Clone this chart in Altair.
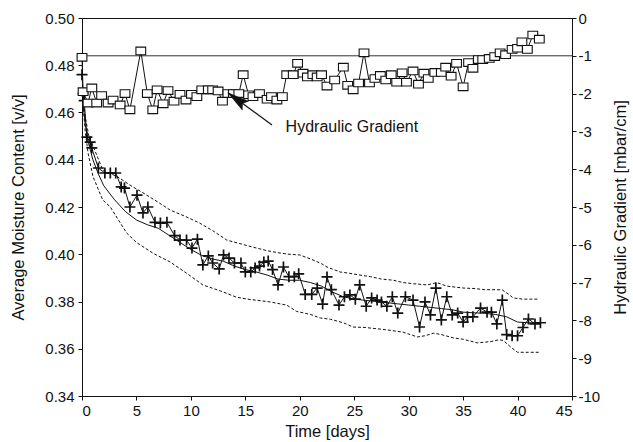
import altair as alt
import pandas as pd

# ---------------- data ----------------
grad_days = [0, 0.1, 0.55, 0.9, 1.35, 1.8, 2.4, 2.85, 3.5, 3.95, 4.4, 5.4, 6.0, 6.5, 6.9,
             7.45, 7.9, 8.45, 9.0, 9.55, 10.05, 10.55, 11.0, 11.6, 12.0, 12.5, 12.9, 13.4,
             13.9, 14.4, 14.8, 15.3, 15.7, 16.3, 17.0, 17.4, 17.9, 18.4, 18.8, 19.4, 19.8,
             20.3, 20.7, 21.2, 21.6, 22.0, 22.5, 23.2, 24.0, 24.4, 24.9, 25.4, 25.9, 26.4,
             26.9, 27.4, 27.9, 28.4, 28.9, 29.4, 29.8, 30.4, 30.9, 31.4, 31.8, 32.4, 33.0,
             33.4, 33.9, 34.4, 35.0, 35.5, 35.9, 36.4, 36.8, 37.4, 37.9, 38.4, 38.9, 39.5,
             40.0, 40.4, 40.9, 41.4, 42.0]
grad_vals = [-1.04, -1.95, -2.25, -1.85, -2.25, -2.05, -2.25, -2.17, -2.3, -2.0, -2.43, -0.87,
             -2.0, -2.43, -1.9, -2.27, -1.92, -2.2, -2.02, -2.17, -2.02, -2.08, -1.9, -1.9,
             -1.9, -1.93, -2.2, -2.0, -2.0, -2.0, -1.5, -2.03, -2.08, -2.0, -2.15, -2.08,
             -2.17, -2.08, -1.5, -1.5, -1.2, -1.46, -1.56, -1.5, -1.56, -1.5, -1.8, -1.64,
             -1.3, -1.78, -1.9, -1.72, -0.92, -1.72, -1.6, -1.52, -1.64, -1.5, -1.7, -1.45,
             -1.7, -1.4, -1.75, -1.46, -1.6, -1.44, -1.44, -1.3, -1.54, -1.2, -1.82, -1.18,
             -1.33, -1.1, -1.1, -1.07, -1.02, -0.92, -0.97, -0.83, -0.8, -0.63, -0.83,
             -0.45, -0.56]

plus_days = [0, 0.1, 0.2, 0.45, 0.75, 0.9, 1.5, 2.1, 2.6, 3.1, 3.6, 3.9, 4.4, 5.05, 5.6,
             6.05, 6.7, 7.2, 7.8, 8.5, 9.0, 9.6, 10.1, 10.6, 11.1, 11.6, 12.0, 12.6, 13.0,
             13.5, 14.0, 14.6, 15.0, 15.5, 15.9, 16.3, 16.7, 17.1, 17.5, 18.0, 18.5, 19.0,
             19.5, 19.9, 20.5, 21.1, 21.6, 22.1, 22.5, 22.9, 23.6, 24.1, 24.6, 25.1, 25.5,
             26.1, 26.6, 27.1, 27.5, 28.0, 28.5, 29.0, 29.7, 30.4, 31.0, 31.5, 32.0, 32.5,
             33.0, 33.5, 34.0, 34.5, 35.0, 35.4, 35.9, 36.6, 37.2, 37.6, 38.1, 38.6, 39.0,
             39.5, 40.0, 40.5, 41.0, 41.6, 42.1]
plus_vals = [0.476, 0.468, 0.465, 0.4496, 0.4475, 0.445, 0.4365, 0.4344, 0.4344, 0.4344,
             0.4285, 0.428, 0.420, 0.425, 0.4175, 0.420, 0.4135, 0.4132, 0.4135, 0.4079,
             0.406, 0.406, 0.4026, 0.4064, 0.3955, 0.3993, 0.3963, 0.3938, 0.3997, 0.3984,
             0.3963, 0.3963, 0.3925, 0.3925, 0.3942, 0.395, 0.3967, 0.3971, 0.3935, 0.387,
             0.3946, 0.3905, 0.3905, 0.3917, 0.383, 0.383, 0.3857, 0.3789, 0.3904, 0.385,
             0.3785, 0.382, 0.3828, 0.381, 0.387, 0.378, 0.3815, 0.3806, 0.3798, 0.378,
             0.382, 0.3751, 0.382, 0.3806, 0.3692, 0.3798, 0.3743, 0.3857, 0.3722, 0.382,
             0.3743, 0.3751, 0.3713, 0.3735, 0.3735, 0.3772, 0.3755, 0.3755, 0.3705, 0.3806,
             0.366, 0.3655, 0.3655, 0.369, 0.3726, 0.3705, 0.371]

mean_days = [0, 0.3, 0.6, 1, 1.5, 2, 3, 4, 5, 6, 7, 8, 9, 10, 11, 12, 13, 14, 15, 16, 17,
             18, 19, 20, 21, 22, 23, 24, 25, 26, 27, 28, 29, 30, 31, 32, 33, 34, 35, 36, 37,
             38, 39, 40, 41, 42]
mean_vals = [0.468, 0.455, 0.447, 0.440, 0.434, 0.429, 0.423, 0.418, 0.4145, 0.4125, 0.411,
             0.408, 0.405, 0.402, 0.3995, 0.398, 0.397, 0.395, 0.3935, 0.3925, 0.3912,
             0.3895, 0.389, 0.389, 0.388, 0.3865, 0.384, 0.382, 0.381, 0.3805, 0.380,
             0.3795, 0.379, 0.3785, 0.378, 0.3775, 0.377, 0.3765, 0.3755, 0.3752, 0.375,
             0.3745, 0.3735, 0.3713, 0.371, 0.371]

upper_days = [0, 0.3, 0.7, 1, 1.9, 3.3, 4.5, 5.6, 7, 8.1, 9.5, 10.8, 12, 13.3, 14.5, 15.7,
              17, 18.2, 19, 20, 21, 22, 22.5, 23.7, 24.5, 25.5, 26.5, 27.5, 28.6, 29.5,
              30.5, 31.7, 32.6, 33.5, 35, 36, 37, 38, 38.6, 39.2, 39.6, 40.5, 41.5, 42]
upper_vals = [0.470, 0.458, 0.4484, 0.446, 0.4357, 0.4327, 0.429, 0.426, 0.422, 0.4187,
              0.416, 0.4132, 0.410, 0.406, 0.4045, 0.403, 0.4015, 0.4005, 0.400, 0.3997,
              0.398, 0.396, 0.3946, 0.3925, 0.392, 0.3912, 0.3905, 0.3895, 0.389, 0.388,
              0.3875, 0.387, 0.388, 0.3865, 0.3857, 0.3855, 0.385, 0.385, 0.3849, 0.383,
              0.3815, 0.381, 0.381, 0.381]

lower_days = [0, 0.3, 0.55, 1, 1.9, 2.6, 4.1, 5, 6.5, 8.1, 9.6, 11.1, 12.7, 14.2, 15.2,
              17.3, 18.2, 18.8, 19.7, 21, 21.9, 22.8, 24, 24.9, 26, 28, 29.5, 30.8, 31.5,
              32.3, 33, 34.1, 35, 36.3, 37.5, 38.3, 38.7, 39.3, 40, 41, 42]
lower_vals = [0.468, 0.452, 0.443, 0.433, 0.423, 0.420, 0.409, 0.405, 0.4005, 0.3967,
              0.392, 0.387, 0.3845, 0.3818, 0.381, 0.3798, 0.379, 0.3785, 0.3758, 0.3745,
              0.373, 0.3725, 0.371, 0.3692, 0.369, 0.368, 0.367, 0.365, 0.3655, 0.3666,
              0.366, 0.3646, 0.364, 0.3625, 0.363, 0.3638, 0.3635, 0.361, 0.3585, 0.3585,
              0.3585]

gradient_reference = [-1]
annotation_text = ["Hydraulic Gradient"]

# ---------------- styling ----------------
FONT = "Liberation Sans"
INK = "#111111"
W, H = 490, 378

plus_df = pd.DataFrame({"day": plus_days, "moisture": plus_vals})
mean_df = pd.DataFrame({"day": mean_days, "moisture": mean_vals})
upper_df = pd.DataFrame({"day": upper_days, "moisture": upper_vals})
lower_df = pd.DataFrame({"day": lower_days, "moisture": lower_vals})
grad_df = pd.DataFrame({"day": grad_days, "gradient": grad_vals})
ref_df = pd.DataFrame({"gradient": gradient_reference})

x_axis = alt.Axis(values=list(range(0, 46, 5)), title="Time [days]", titleX=W / 2,
                  titleY=35, titleBaseline="middle", labelPadding=3)
x_scale = alt.Scale(domain=[0, 45], nice=False, zero=False)

m_axis = alt.Axis(values=[0.34, 0.36, 0.38, 0.40, 0.42, 0.44, 0.46, 0.48, 0.50],
                  format=".2f", title="Average Moisture Content [v/v]", orient="left",
                  titleX=-64, titleY=H / 2, titleAngle=270, titleBaseline="middle",
                  titleAlign="center", labelPadding=4)
m_scale = alt.Scale(domain=[0.34, 0.50], nice=False, zero=False)

g_axis = alt.Axis(values=list(range(-10, 1)), title="Hydraulic Gradient [mbar/cm]",
                  orient="right", titleX=48, titleY=H / 2, titleAngle=270,
                  titleBaseline="middle", titleAlign="center", labelPadding=2,
                  labelExpr="datum.value == 0 ? '0' : '-' + abs(datum.value)")
g_scale = alt.Scale(domain=[-10, 0], nice=False, zero=False)


def X(field="day"):
    return alt.X(f"{field}:Q", scale=x_scale, axis=x_axis)


def YM(field="moisture"):
    return alt.Y(f"{field}:Q", scale=m_scale, axis=m_axis)


def YG(field="gradient"):
    return alt.Y(f"{field}:Q", scale=g_scale, axis=g_axis)


dash = [3, 2]
upper = alt.Chart(upper_df).mark_line(color=INK, strokeWidth=1, strokeDash=dash).encode(
    x=X(), y=YM(), order="day:Q")
lower = alt.Chart(lower_df).mark_line(color=INK, strokeWidth=1, strokeDash=dash).encode(
    x=X(), y=YM(), order="day:Q")
mean = alt.Chart(mean_df).mark_line(color=INK, strokeWidth=1).encode(
    x=X(), y=YM(), order="day:Q")
plus_line = alt.Chart(plus_df).mark_line(color=INK, strokeWidth=1).encode(
    x=X(), y=YM(), order="day:Q")
plus_pts = alt.Chart(plus_df).mark_point(
    shape="M-1,0L1,0M0,-1L0,1", size=121, filled=False, stroke=INK, strokeWidth=1.7,
    opacity=1).encode(x=X(), y=YM())

# annotation, placed on the hydraulic-gradient scale
ann_df = pd.DataFrame({"day": [17.45], "gradient": [-2.83], "day2": [13.4],
                       "gradient2": [-1.98], "label_day": [18.7], "label_g": [-2.88],
                       "label": annotation_text})
shaft = alt.Chart(ann_df).mark_rule(color=INK, strokeWidth=1.2).encode(
    x=X("day"), x2="day2:Q", y=YG("gradient"), y2="gradient2:Q")
head = alt.Chart(ann_df).mark_point(
    shape="M0,0L0.45,1.8L0,1.5L-0.45,1.8Z", size=576, filled=True, fill=INK, stroke=INK,
    strokeWidth=0.5, angle=306, opacity=1).encode(x=X("day2"), y=YG("gradient2"))
label = alt.Chart(ann_df).mark_text(
    align="left", baseline="middle", font=FONT, fontSize=16, color=INK).encode(
    x=X("label_day"), y=YG("label_g"), text="label:N")

ref = alt.Chart(ref_df).mark_rule(color="#333333", strokeWidth=1).encode(y=YG())
grad_line = alt.Chart(grad_df).mark_line(color=INK, strokeWidth=1).encode(
    x=X(), y=YG(), order="day:Q")
grad_pts = alt.Chart(grad_df).mark_point(
    shape="M-1,-0.78L1,-0.78L1,0.78L-1,0.78Z", size=95, filled=True, fill="white",
    stroke=INK, strokeWidth=1.1, opacity=1).encode(x=X(), y=YG())

moist_layer = alt.layer(upper, lower, mean, plus_line, plus_pts)
grad_layer = alt.layer(ref, grad_line, grad_pts, shaft, head, label)

chart = alt.layer(moist_layer, grad_layer).resolve_scale(y="independent").properties(
    width=W, height=H,
    autosize=alt.AutoSizeParams(type="none"),
    padding={"left": 82, "top": 18, "right": 61, "bottom": 46},
    background="white",
).configure_view(stroke=INK, strokeWidth=1).configure_axis(
    domainColor=INK, tickColor=INK, labelColor=INK, titleColor=INK,
    labelFont=FONT, titleFont=FONT, labelFontSize=15, titleFontSize=16.5,
    titleFontWeight="normal", grid=False, tickSize=4, domainWidth=1, tickWidth=1)

chart.save("out.html", embed_options={"renderer": "svg", "actions": False})
